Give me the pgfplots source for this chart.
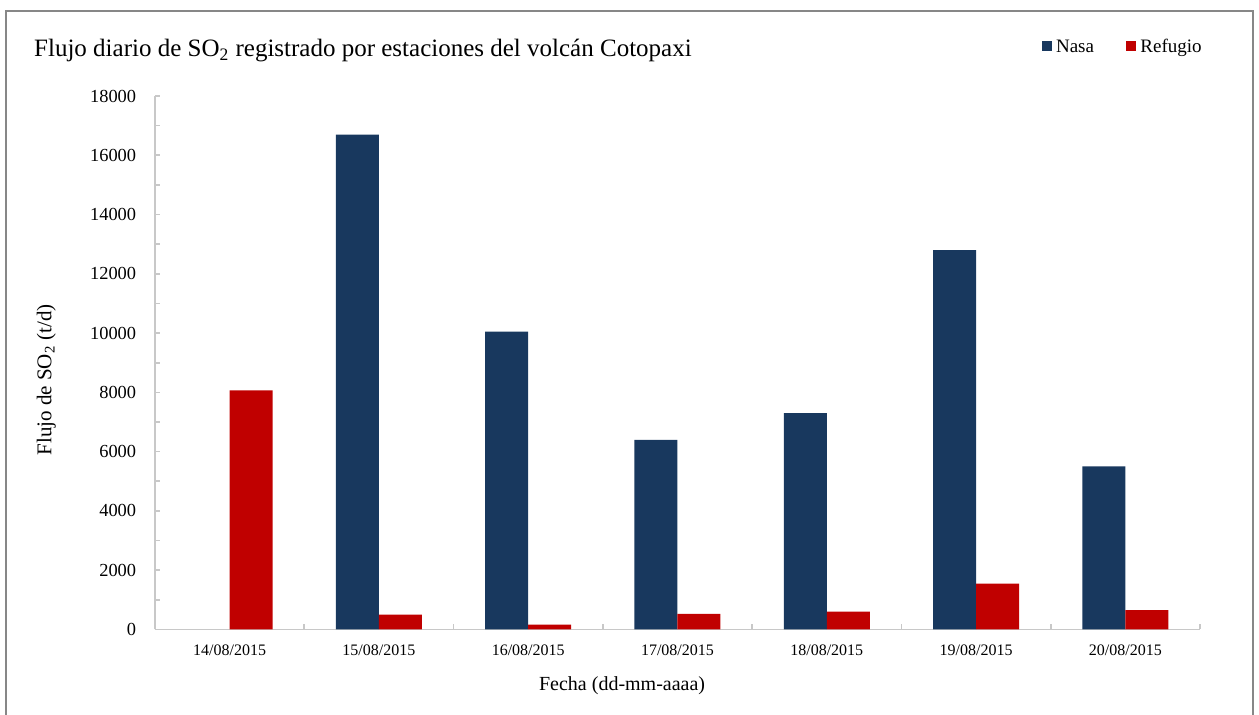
\documentclass[border=0pt]{standalone}
\usepackage{fontspec}
\setmainfont{Liberation Serif}
\usepackage{pgfplots}
\pgfplotsset{compat=1.18}
\definecolor{nasa}{RGB}{24,56,94}
\definecolor{refugio}{RGB}{192,0,0}
\definecolor{axgray}{RGB}{200,200,200}
\definecolor{framegray}{RGB}{135,135,135}
\begin{document}
\begin{tikzpicture}[x=0.5pt,y=0.5pt]
\useasboundingbox (0,0) rectangle (1259,715);
\draw[framegray, line width=0.7pt] (6,-3) -- (6,704) -- (1253,704) -- (1253,-3);
\begin{axis}[
  at={(77.5pt,42.75pt)}, anchor=south west,
  scale only axis, width=522.5pt, height=266.75pt,
  ybar=0pt, bar width=21.5pt,
  xmin=-0.5, xmax=6.5, ymin=0, ymax=18000,
  axis lines*=left,
  axis line style={axgray, line width=0.8pt},
  xtick={0,1,2,3,4,5,6},
  xticklabels={14/08/2015,15/08/2015,16/08/2015,17/08/2015,18/08/2015,19/08/2015,20/08/2015},
  major x tick style={draw=none},
  minor xtick={-0.5,0.5,1.5,2.5,3.5,4.5,5.5,6.5},
  ytick={0,2000,...,18000},
  minor ytick={1000,3000,...,17000},
  tick align=inside,
  tick style={axgray, line width=0.8pt},
  major tick length=2.5pt, minor tick length=2.5pt,
  scaled y ticks=false,
  /pgf/number format/assume math mode=true,
  /pgf/number format/1000 sep={},
  yticklabel style={font=\fontsize{9.2}{11}\selectfont, inner sep=0pt, anchor=east, xshift=-9.25pt},
  xticklabel style={font=\fontsize{8}{10}\selectfont, inner sep=0pt, anchor=north, yshift=-7.4pt},
  xlabel={Fecha (dd-mm-aaaa)},
  xlabel style={font=\fontsize{10}{12}\selectfont, at={(axis description cs:0.447,-0.106)}, anchor=center},
  ylabel={Flujo de SO\textsubscript{2} (t/d)},
  ylabel style={font=\fontsize{10.5}{12}\selectfont, at={(axis description cs:-0.104,0.468)}, anchor=center},
  title={Flujo diario de SO\textsubscript{2} registrado por estaciones del volcán Cotopaxi},
  title style={font=\fontsize{12.5}{15}\selectfont, at={(axis description cs:-0.116,1.0512)}, anchor=base west, inner sep=0pt},
  legend columns=2,
  legend style={draw=none, fill=none, inner sep=0pt, outer sep=0pt,
    font=\fontsize{9.5}{11}\selectfont,
    nodes={inner sep=0pt},
    at={(axis description cs:1.0016,1.0905)}, anchor=east,
    /tikz/every odd column/.style={column sep=2pt},
    /tikz/every even column/.style={column sep=16.2pt}},
]
\addplot[fill=nasa, draw=none,
  legend image code/.code={\fill[nasa] (0pt,-1.6pt) rectangle (5pt,3.4pt);}]
  coordinates {(1,16700) (2,10050) (3,6400) (4,7300) (5,12800) (6,5500)};
\addlegendentry{Nasa}
\addplot[fill=refugio, draw=none,
  legend image code/.code={\fill[refugio] (0pt,-1.6pt) rectangle (5pt,3.4pt);}]
  coordinates {(0,8070) (1,500) (2,160) (3,530) (4,600) (5,1550) (6,650)};
\addlegendentry{Refugio}
\end{axis}
\end{tikzpicture}
\end{document}
